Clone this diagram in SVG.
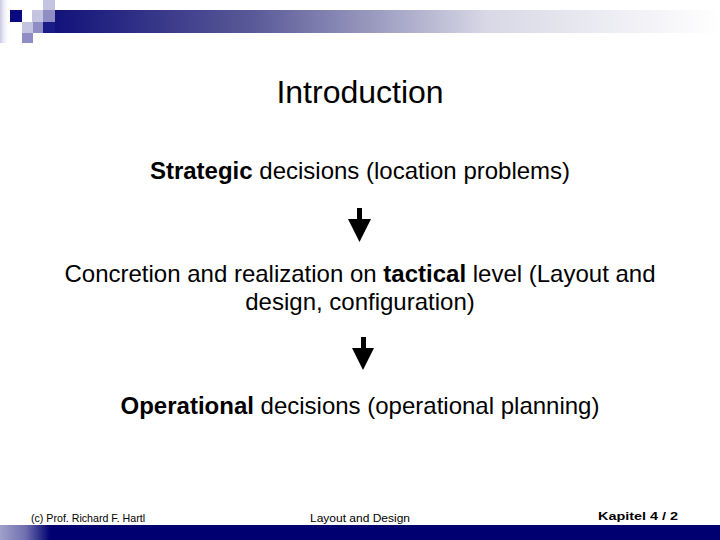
<svg xmlns="http://www.w3.org/2000/svg" width="720" height="540" viewBox="0 0 720 540">
<defs>
<linearGradient id="topband" x1="0" y1="0" x2="1" y2="0">
<stop offset="0" stop-color="#12127a"/>
<stop offset="0.3" stop-color="#5a5a98"/>
<stop offset="0.65" stop-color="#d8d8e6"/>
<stop offset="1" stop-color="#ffffff"/>
</linearGradient>
<linearGradient id="leftfade" x1="0" y1="0" x2="1" y2="0">
<stop offset="0" stop-color="#c8c8e4"/>
<stop offset="1" stop-color="#ffffff" stop-opacity="0"/>
</linearGradient>
<linearGradient id="botband" x1="0" y1="0" x2="1" y2="0">
<stop offset="0" stop-color="#a0a0cc"/>
<stop offset="0.035" stop-color="#7070b0"/>
<stop offset="0.07" stop-color="#000070"/>
<stop offset="1" stop-color="#000070"/>
</linearGradient>
</defs>
<style>
.t{font-family:"Liberation Sans",Arial,sans-serif;fill:#000;text-anchor:middle}
.title{font-size:32px}
.body{font-size:24px}
.foot{font-size:11px}
.arrow{fill:#000}
</style>
<g id="decoration">
<rect x="0" y="0" width="10" height="43" fill="url(#leftfade)"/>
<rect x="55" y="10" width="665" height="23" fill="url(#topband)"/>
<rect x="43" y="0" width="12" height="10" fill="#c4c4e0"/>
<rect x="10" y="10" width="12" height="12" fill="#0a0a80"/>
<rect x="32" y="10" width="11" height="12" fill="#c4c4e0"/>
<rect x="43" y="10" width="12" height="12" fill="#8e8ec4"/>
<rect x="22" y="22" width="11" height="11" fill="#c4c4e0"/>
<rect x="33" y="22" width="10" height="11" fill="#8e8ec4"/>
<rect x="43" y="22" width="12" height="11" fill="#1a1a88"/>
<rect x="22" y="33" width="11" height="10" fill="#8e8ec4"/>
<rect x="0" y="525" width="720" height="15" fill="url(#botband)"/>
</g>
<g id="title"><text class="t title" x="360" y="103">Introduction</text></g>
<g id="node-strategic"><text class="t body" x="360" y="179"><tspan font-weight="bold">Strategic</tspan> decisions (location problems)</text></g>
<g id="node-tactical">
<text class="t body" x="360" y="282">Concretion and realization on <tspan font-weight="bold">tactical</tspan> level (Layout and</text>
<text class="t body" x="360" y="310">design, configuration)</text>
</g>
<g id="node-operational"><text class="t body" x="360" y="414"><tspan font-weight="bold">Operational</tspan> decisions (operational planning)</text></g>
<g id="connectors">
<path class="arrow" d="M357,208 H362 V219 H371 L359.5,242 L348,219 H357 Z"/>
<path class="arrow" d="M361,337 H366 V348 H374 L363,370 L352,348 H361 Z"/>
</g>
<g id="footer">
<text class="t foot" x="88" y="522" textLength="114" lengthAdjust="spacingAndGlyphs">(c) Prof. Richard F. Hartl</text>
<text class="t foot" x="360" y="522" textLength="100" lengthAdjust="spacingAndGlyphs">Layout and Design</text>
<text class="t foot" x="638" y="520" font-weight="bold" font-size="12" textLength="80" lengthAdjust="spacingAndGlyphs">Kapitel 4 / 2</text>
</g>
</svg>
